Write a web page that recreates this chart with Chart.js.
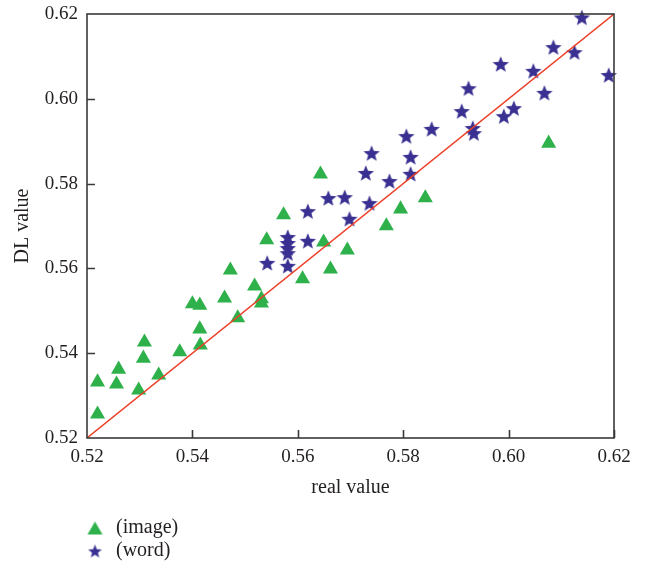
<!DOCTYPE html>
<html>
<head>
<meta charset="utf-8">
<script src="https://cdn.jsdelivr.net/npm/chart.js@4/dist/chart.umd.min.js"></script>
<style>
  html, body { margin: 0; padding: 0; background: #ffffff; }
  #wrap { width: 645px; height: 567px; }
</style>
</head>
<body>
<div id="wrap"><canvas id="c" width="645" height="567"></canvas></div>
<script>
// ---- data ----
const xTickValues = [0.52, 0.54, 0.56, 0.58, 0.60, 0.62];
const yTickValues = [0.52, 0.54, 0.56, 0.58, 0.60, 0.62];

const imageReal = [0.5220, 0.5220, 0.5260, 0.5256, 0.5298, 0.5309, 0.5307, 0.5336, 0.5376, 0.5400,
                   0.5414, 0.5414, 0.5415, 0.5461, 0.5472, 0.5486, 0.5518, 0.5531, 0.5531, 0.5541,
                   0.5573, 0.5609, 0.5643, 0.5649, 0.5662, 0.5694, 0.5768, 0.5795, 0.5842, 0.6076];
const imageDL   = [0.5332, 0.5256, 0.5362, 0.5327, 0.5313, 0.5426, 0.5388, 0.5348, 0.5403, 0.5516,
                   0.5513, 0.5457, 0.5419, 0.5530, 0.5596, 0.5483, 0.5558, 0.5528, 0.5518, 0.5667,
                   0.5726, 0.5575, 0.5822, 0.5662, 0.5598, 0.5643, 0.5700, 0.5740, 0.5766, 0.5895];

const wordReal = [0.6139, 0.6085, 0.6125, 0.5985, 0.6047, 0.6190, 0.6068, 0.5924, 0.5911, 0.6010,
                  0.5991, 0.5932, 0.5934, 0.5854, 0.5806, 0.5740, 0.5814, 0.5729, 0.5814, 0.5774,
                  0.5658, 0.5689, 0.5736, 0.5698, 0.5619, 0.5619, 0.5542, 0.5581, 0.5581, 0.5581,
                  0.5581, 0.5581];
const wordDL   = [0.6192, 0.6122, 0.6110, 0.6082, 0.6066, 0.6056, 0.6014, 0.6025, 0.5971, 0.5978,
                  0.5959, 0.5931, 0.5919, 0.5929, 0.5912, 0.5872, 0.5863, 0.5825, 0.5823, 0.5806,
                  0.5766, 0.5768, 0.5754, 0.5717, 0.5735, 0.5665, 0.5613, 0.5674, 0.5660, 0.5648,
                  0.5636, 0.5606];

const refLineX = [0.52, 0.62];
const refLineY = [0.52, 0.62];

const seriesLabels = ['(image)', '(word)'];
const xTitle = 'real value';
const yTitle = 'DL value';

// ---- styles ----
const GREEN = '#2eb14b';
const NAVY = '#393091';
const RED = '#ec4028';
const TEXT = '#231f20';
const AXIS = '#3a3a3a';
const FONT = "'Liberation Serif', 'DejaVu Serif', serif";

function starCanvas(R, r, color) {
  const s = Math.ceil(R * 2) + 2;
  const c = document.createElement('canvas');
  c.width = s; c.height = s;
  const g = c.getContext('2d');
  g.fillStyle = color;
  g.beginPath();
  const cx = s / 2, cy = s / 2 + R * 0.095;
  for (let i = 0; i < 10; i++) {
    const a = -Math.PI / 2 + i * Math.PI / 5;
    const rr = (i % 2) ? r : R;
    g.lineTo(cx + rr * Math.cos(a), cy + rr * Math.sin(a));
  }
  g.closePath();
  g.fill();
  return c;
}
function triCanvas(w, h, color) {
  const c = document.createElement('canvas');
  c.width = Math.ceil(w) + 2; c.height = Math.ceil(h) + 2;
  const g = c.getContext('2d');
  g.fillStyle = color;
  g.beginPath();
  g.moveTo(c.width / 2, 1);
  g.lineTo(c.width / 2 + w / 2, 1 + h);
  g.lineTo(c.width / 2 - w / 2, 1 + h);
  g.closePath();
  g.fill();
  return c;
}

const bigStar = starCanvas(8.6, 3.7, NAVY);
const legendStar = starCanvas(7.2, 3.1, NAVY);
const legendTri = triCanvas(15, 13, GREEN);

const toPts = (xs, ys) => xs.map((x, i) => ({x: x, y: ys[i]}));

const framePlugin = {
  id: 'frameAndTicks',
  afterLayout(chart) {
    const lg = chart.legend;
    if (!lg) return;
    lg.left = 81; lg.top = 515; lg.right = 81 + 200; lg.bottom = 567;
    lg.width = 200; lg.height = 52;
  },
  afterDatasetsDraw(chart) {
    const {ctx, chartArea: a, scales} = chart;
    ctx.save();
    ctx.strokeStyle = AXIS;
    ctx.lineWidth = 1.6;
    const tl = 8;
    ctx.beginPath();
    scales.x.ticks.forEach(t => {
      const px = Math.round(scales.x.getPixelForValue(t.value)) + 0.5;
      if (px <= a.left + 1) return;
      ctx.moveTo(px, a.bottom);
      ctx.lineTo(px, a.bottom - tl);
    });
    scales.y.ticks.forEach(t => {
      const py = Math.round(scales.y.getPixelForValue(t.value)) + 0.5;
      if (py >= a.bottom - 1 || py <= a.top + 1) return;
      ctx.moveTo(a.left, py);
      ctx.lineTo(a.left + tl, py);
    });
    ctx.stroke();
    ctx.lineWidth = 1.6;
    ctx.strokeRect(a.left, a.top, a.right - a.left, a.bottom - a.top);
    ctx.restore();
  }
};

new Chart(document.getElementById('c'), {
  type: 'scatter',
  data: {
    datasets: [
      {
        label: seriesLabels[0],
        data: toPts(imageReal, imageDL),
        pointStyle: 'triangle',
        pointRadius: 8.7,
        pointHoverRadius: 8.7,
        backgroundColor: GREEN,
        borderColor: GREEN,
        borderWidth: 0,
        clip: false,
        order: 1
      },
      {
        label: seriesLabels[1],
        data: toPts(wordReal, wordDL),
        pointStyle: bigStar,
        pointRadius: 9,
        backgroundColor: NAVY,
        borderColor: NAVY,
        clip: false,
        order: 0
      },
      {
        type: 'line',
        label: 'y = x',
        data: toPts(refLineX, refLineY),
        borderColor: RED,
        borderWidth: 1.4,
        pointRadius: 0,
        fill: false,
        order: -1
      }
    ]
  },
  options: {
    responsive: false,
    devicePixelRatio: 1,
    animation: false,
    layout: { padding: { top: 14, right: 31, left: 0, bottom: 0 } },
    plugins: {
      tooltip: { enabled: false },
      legend: {
        display: true,
        position: 'chartArea',
        align: 'start',
        labels: {
          usePointStyle: true,
          pointStyleWidth: 22,
          boxHeight: 14,
          padding: 3,
          color: TEXT,
          font: { family: FONT, size: 20 },
          generateLabels: () => [
            { text: seriesLabels[0], pointStyle: legendTri, fillStyle: GREEN, strokeStyle: GREEN, lineWidth: 0, hidden: false, datasetIndex: 0, fontColor: TEXT },
            { text: seriesLabels[1], pointStyle: legendStar, fillStyle: NAVY, strokeStyle: NAVY, lineWidth: 0, hidden: false, datasetIndex: 1, fontColor: TEXT }
          ]
        }
      }
    },
    scales: {
      x: {
        type: 'linear',
        min: 0.52, max: 0.62,
        afterBuildTicks: s => { s.ticks = xTickValues.map(v => ({value: v})); },
        afterFit: s => { s.height = 129; },
        grid: { display: false, drawTicks: false },
        border: { display: false },
        ticks: {
          padding: 8,
          color: TEXT,
          font: { family: FONT, size: 19 },
          maxRotation: 0,
          callback: v => Number(v).toFixed(2)
        },
        title: {
          display: true,
          text: xTitle,
          color: TEXT,
          font: { family: FONT, size: 20 },
          padding: { top: 0, bottom: 67 }
        }
      },
      y: {
        type: 'linear',
        min: 0.52, max: 0.62,
        afterBuildTicks: s => { s.ticks = yTickValues.map(v => ({value: v})); },
        afterFit: s => { s.width = 87; s.paddingTop = 0; s.paddingBottom = 0; },
        grid: { display: false, drawTicks: false },
        border: { display: false },
        ticks: {
          padding: 9,
          color: TEXT,
          font: { family: FONT, size: 19 },
          callback: v => Number(v).toFixed(2)
        },
        title: {
          display: true,
          text: yTitle,
          color: TEXT,
          font: { family: FONT, size: 20 },
          padding: { top: 11, bottom: 0 }
        }
      }
    }
  },
  plugins: [framePlugin]
});
</script>
</body>
</html>
